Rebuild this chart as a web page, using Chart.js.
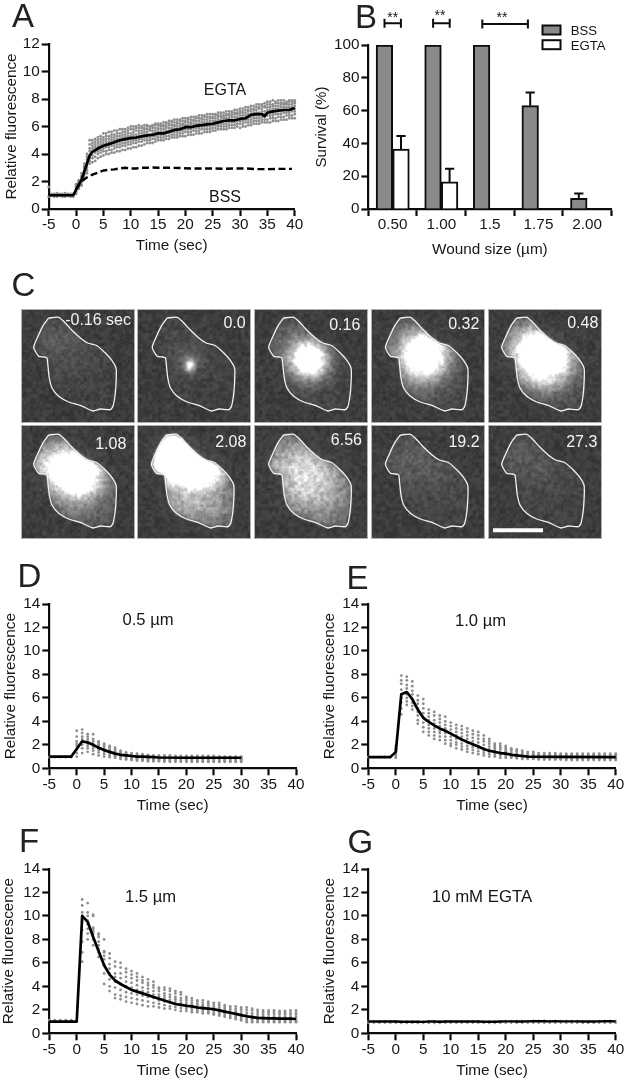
<!DOCTYPE html>
<html><head><meta charset="utf-8">
<script src="https://cdn.jsdelivr.net/npm/chart.js@4"></script>
<style>
html,body{margin:0;padding:0;background:#fff;width:625px;height:1082px;overflow:hidden}
canvas{position:absolute;display:block;filter:blur(.45px)}
.letter{position:absolute;font:33px/1 "Liberation Sans",Arial,sans-serif;color:#222;filter:blur(.4px)}
</style></head><body>
<script>
/* ---------- Panel A ---------- */
const restTimesA=[-5,-4.5,-4,-3.5,-3,-2.5,-2,-1.5,-1,-0.5];
const restA1=[1.6,1.1,1.1,1.15,1.1,1.1,1.15,1.1,1.1,1.1];
const restA2=[0.9,0.95,0.9,0.9,0.95,0.9,0.9,0.95,0.9,0.9];
const repA1=[1.8,2.1,2.6,3.3,4.0,5.0,5.0,5.1,5.2,5.3, 5.5,5.5,5.6,5.6,5.7,5.7,5.8,5.8,5.8,5.9, 6.0,6.0,6.0,6.1,6.0,6.1,6.1,6.0,6.1,6.2, 6.2,6.2,6.3,6.3,6.4,6.4,6.5,6.5,6.5,6.6, 6.6,6.6,6.7,6.7,6.7,6.8,6.8,6.8,6.9,6.9, 6.9,6.9,7.0,7.0,7.0,7.1,7.1,7.1,7.2,7.2, 7.3,7.3,7.4,7.4,7.5,7.5,7.6,7.6,7.6,7.7, 7.8,7.8,7.9,7.8,7.9,7.9,7.9,7.8,7.9,7.9, 7.9];
const repA2=[1.7,2.0,2.4,3.1,3.8,4.7,4.8,4.9,5.0,5.1, 5.2,5.3,5.3,5.4,5.4,5.5,5.5,5.6,5.6,5.7, 5.8,5.8,5.9,5.9,5.9,5.9,6.0,6.0,6.0,6.1, 6.1,6.1,6.1,6.2,6.2,6.3,6.3,6.3,6.4,6.4, 6.4,6.5,6.5,6.5,6.6,6.6,6.6,6.7,6.7,6.7, 6.7,6.8,6.8,6.8,6.8,6.9,6.9,7.0,7.0,7.0, 7.1,7.1,7.2,7.2,7.3,7.3,7.4,7.4,7.5,7.5, 7.6,7.6,7.6,7.7,7.7,7.7,7.7,7.7,7.8,7.8, 7.8];
const repA3=[1.6,1.9,2.3,3.0,3.6,4.4,4.6,4.7,4.8,4.9, 5.0,5.1,5.1,5.2,5.2,5.3,5.3,5.4,5.4,5.5, 5.5,5.6,5.7,5.7,5.7,5.8,5.8,5.8,5.9,5.9, 5.9,6.0,6.0,6.0,6.1,6.1,6.1,6.2,6.2,6.2, 6.3,6.3,6.3,6.4,6.4,6.4,6.5,6.5,6.5,6.6, 6.6,6.6,6.7,6.7,6.7,6.8,6.8,6.8,6.9,6.9, 7.0,7.0,7.0,7.1,7.1,7.2,7.2,7.3,7.3,7.4, 7.4,7.4,7.5,7.5,7.5,7.6,7.6,7.6,7.6,7.6, 7.7];
const repA4=[1.5,1.8,2.2,2.8,3.4,4.2,4.4,4.5,4.6,4.7, 4.8,4.9,4.9,5.0,5.0,5.1,5.1,5.2,5.2,5.3, 5.3,5.4,5.4,5.5,5.5,5.6,5.6,5.7,5.7,5.7, 5.8,5.8,5.8,5.9,5.9,5.9,6.0,6.0,6.0,6.1, 6.1,6.1,6.2,6.2,6.2,6.2,6.3,6.3,6.3,6.4, 6.4,6.4,6.5,6.5,6.6,6.6,6.6,6.7,6.7,6.7, 6.8,6.8,6.8,6.9,6.9,7.0,7.0,7.0,7.1,7.1, 7.2,7.2,7.3,7.3,7.3,7.4,7.4,7.4,7.4,7.4, 7.5];
const repA5=[1.4,1.7,2.1,2.6,3.2,3.9,4.2,4.3,4.4,4.5, 4.6,4.7,4.7,4.8,4.8,4.9,4.9,5.0,5.0,5.1, 5.1,5.2,5.2,5.3,5.3,5.4,5.4,5.4,5.5,5.5, 5.6,5.6,5.6,5.7,5.7,5.8,5.8,5.8,5.9,5.9, 6.0,6.0,6.0,6.0,6.1,6.1,6.1,6.1,6.2,6.2, 6.2,6.3,6.3,6.3,6.4,6.4,6.4,6.5,6.5,6.5, 6.6,6.6,6.6,6.7,6.7,6.8,6.8,6.8,6.9,6.9, 7.0,7.0,7.0,7.1,7.1,7.1,7.2,7.2,7.2,7.3, 7.3];
const repA6=[1.3,1.6,2.0,2.5,3.0,3.7,3.9,4.1,4.2,4.3, 4.4,4.5,4.5,4.6,4.6,4.7,4.7,4.8,4.8,4.9, 4.9,5.0,5.0,5.1,5.1,5.2,5.2,5.2,5.3,5.3, 5.4,5.4,5.4,5.5,5.5,5.6,5.6,5.6,5.7,5.7, 5.8,5.8,5.8,5.9,5.9,5.9,6.0,6.0,6.0,6.0, 6.1,6.1,6.1,6.2,6.2,6.2,6.3,6.3,6.3,6.4, 6.4,6.4,6.5,6.5,6.5,6.6,6.6,6.6,6.7,6.7, 6.8,6.8,6.8,6.9,6.9,6.9,7.0,7.0,7.0,7.1, 7.1];
const repA7=[1.2,1.5,1.8,2.3,2.8,3.5,3.7,3.8,4.0,4.1, 4.2,4.2,4.3,4.3,4.4,4.5,4.5,4.6,4.6,4.7, 4.7,4.8,4.8,4.9,4.9,5.0,5.0,5.0,5.1,5.1, 5.2,5.2,5.2,5.3,5.3,5.4,5.4,5.4,5.5,5.5, 5.6,5.6,5.6,5.7,5.7,5.7,5.8,5.8,5.8,5.8, 5.9,5.9,6.0,6.0,6.0,6.0,6.1,6.1,6.1,6.2, 6.2,6.2,6.3,6.3,6.3,6.4,6.4,6.4,6.5,6.5, 6.5,6.6,6.6,6.6,6.7,6.7,6.7,6.8,6.8,6.8, 6.9];
const repA8=[1.1,1.5,1.7,2.2,2.6,3.3,3.4,3.5,3.7,3.8, 3.9,4.0,4.0,4.1,4.1,4.2,4.2,4.3,4.3,4.4, 4.4,4.5,4.5,4.6,4.6,4.7,4.8,4.8,4.8,4.9, 5.0,5.0,5.0,5.1,5.1,5.2,5.2,5.2,5.3,5.3, 5.3,5.4,5.4,5.4,5.5,5.5,5.5,5.6,5.6,5.6, 5.7,5.7,5.8,5.8,5.8,5.8,5.9,5.9,5.9,6.0, 5.9,6.0,6.0,6.1,6.1,6.2,6.2,6.2,6.3,6.3, 6.3,6.3,6.4,6.4,6.4,6.5,6.5,6.5,6.6,6.6, 6.6];
const meanTimesA=[-5,-0.5,0,0.5,1,1.5,2,2.5,3,4,5,6,7,8,9,10,11,12,13,14,15,16,17,18,19,20,21,22,23,24,25,26,27,28,29,30,31,32,33,34,34.5,35,36,37,38,39,40];
const meanA=[1,1,1.4,1.8,2.1,2.7,3.3,3.9,4.15,4.4,4.6,4.72,4.85,5,5.08,5.15,5.2,5.28,5.35,5.4,5.5,5.5,5.62,5.75,5.8,5.95,5.95,6.05,6.1,6.15,6.2,6.3,6.4,6.45,6.45,6.55,6.6,6.85,6.9,6.9,6.75,7,7.1,7.15,7.2,7.2,7.35];
const bssTimes=[0,1,2,3,4,5,6,7,8,9,10,11,12,13,14,15,17,19,21,23,25,27,29,31,33,35,37,39.5];
const bssA=[1.4,2,2.3,2.5,2.65,2.8,2.85,2.88,2.95,3,2.95,2.95,3,3,3.02,3,3,2.98,2.95,2.95,2.95,2.92,2.95,2.95,2.9,2.9,2.92,2.92];

/* ---------- Panel B ---------- */
const woundSizes=["0.50","1.00","1.5","1.75","2.00"];
const survivalBSS=[100,100,100,63,6.5];
const survivalEGTA=[36.5,16.5,null,null,null];
const errorBSS=[null,null,null,8,3];
const errorEGTA=[8,8,null,null,null];

/* ---------- Panel C ---------- */
const frameLabels=["-0.16 sec","0.0","0.16","0.32","0.48","1.08","2.08","6.56","19.2","27.3"];
const outlineX=[27.7,37.7,42.7,51,59.3,66.7,76,84.3,90.3,95,95.3,94.3,92,89.3,79.3,72,59.3,47.7,37.7,31,28.3,27,26,23.3,17.7,12.7,17.7,22.7,27.7];
const outlineY=[9,8.3,12.3,21.3,29,34,36.7,44,50.7,59,67.3,84,97.3,100.7,100,102,96.3,93,87.3,79,69,57.3,49,48,47.3,38.3,25.7,15.7,9];
const frameHaze=[5,5,6,8,10,14,22,28,9,7];
const frameBlobs=[
 [[35,30,22,16,20],[52,50,24,18,8]],
 [[40,35,20,14,10],[50,56,3.5,4.5,170],[50,52,10,10,28]],
 [[53,50,11,11,300],[45,50,22,20,50],[35,30,18,14,20]],
 [[51,46,14,14,300],[42,42,26,24,65],[50,70,18,18,18]],
 [[55,47,19,17,300],[40,35,20,16,80],[55,70,18,14,45]],
 [[45,40,22,15,230],[58,52,13,13,170],[40,60,26,24,30],[60,80,20,14,25],[70,55,20,14,30]],
 [[32,30,15,13,280],[50,40,18,13,300],[65,48,14,10,130],[55,78,30,16,90],[35,20,10,10,150]],
 [[55,52,22,22,110],[30,35,20,18,55],[60,75,30,18,30]],
 [[35,30,24,16,22],[60,50,25,16,10]],
 [[35,30,22,16,20],[55,50,20,14,8]]
];
const scaleBarX=[5,55];
const scaleBarY=[105.3,105.3];

/* ---------- Panel D ---------- */
const restTimes=[-5,-4,-3,-2,-1];
const restD=[0.95,0.95,0.95,0.95,0.95];
const lineTimesD=[-5,-4,-3,-2,-1,0,1,2,3,4,5,6,7,8,9,10,11,12,13,14,15,20,25,30];
const lineD=[1,1,1,1,1,1.65,2.3,2.2,2,1.75,1.55,1.4,1.25,1.15,1.1,1.05,1,1,0.98,0.95,0.92,0.9,0.9,0.9];
const repD1=[3.2,3.3,2.9,2.9,2.3,2.1,1.9,1.75,1.5,1.35,1.3,1.25,1.2,1.15,1.1,1.1,1.1,1.1,1.05,1.05,1.05,1.05,1.05,1.05,1.05,1.05,1.0,1.0,1.0,1.0,1.0];
const repD2=[2.7,3.0,2.7,2.5,2.2,2.0,1.8,1.6,1.4,1.3,1.2,1.15,1.1,1.1,1.05,1.0,1.0,1.0,1.0,1.0,1.0,1.0,1.0,1.0,1.0,1.0,0.95,0.95,0.95,0.95,0.95];
const repD3=[2.3,2.7,2.5,2.3,2.05,1.85,1.65,1.45,1.3,1.2,1.1,1.05,1.0,1.0,0.95,0.95,0.95,0.95,0.9,0.9,0.9,0.9,0.9,0.9,0.9,0.9,0.9,0.9,0.9,0.9,0.9];
const repD4=[2.1,2.5,2.3,2.1,1.9,1.7,1.5,1.35,1.2,1.1,1.0,0.95,0.9,0.9,0.9,0.85,0.85,0.85,0.85,0.85,0.85,0.85,0.85,0.85,0.85,0.85,0.85,0.85,0.8,0.8,0.8];
const repD5=[1.9,2.3,2.1,1.9,1.7,1.55,1.4,1.25,1.1,1.0,0.95,0.9,0.85,0.85,0.8,0.8,0.8,0.8,0.8,0.8,0.75,0.75,0.75,0.75,0.75,0.75,0.75,0.75,0.75,0.75,0.75];
const repD6=[1.6,2.0,1.9,1.7,1.55,1.4,1.25,1.1,1.0,0.9,0.85,0.8,0.8,0.75,0.75,0.75,0.7,0.7,0.7,0.7,0.7,0.7,0.7,0.7,0.7,0.7,0.7,0.7,0.7,0.7,0.7];
const repD7=[1.3,1.7,1.7,1.5,1.35,1.2,1.1,1.0,0.9,0.8,0.75,0.75,0.7,0.7,0.65,0.65,0.65,0.65,0.65,0.65,0.65,0.65,0.6,0.6,0.6,0.6,0.6,0.6,0.6,0.6,0.6];
const repD8=[1.0,1.3,1.4,1.2,1.1,1.0,0.95,0.9,0.8,0.75,0.7,0.65,0.65,0.6,0.6,0.6,0.55,0.55,0.55,0.55,0.55,0.55,0.55,0.55,0.55,0.55,0.55,0.55,0.55,0.55,0.55];

/* ---------- Panel E ---------- */
const restE=[0.95,0.95,0.95,0.95,0.95];
const lineTimesE=[-5,-4,-3,-2,-1,0,1,2,3,4,5,6,7,8,9,10,11,12,13,14,15,16,17,18,19,20,21,22,23,24,30,40];
const lineE=[0.95,0.95,0.95,0.95,0.95,1.4,6.3,6.5,5.9,5,4.3,3.95,3.65,3.4,3.2,2.95,2.7,2.45,2.25,2.05,1.85,1.65,1.5,1.4,1.3,1.25,1.15,1.1,1.05,1,0.97,0.95];
const repE1=[1.9,7.9,7.8,7.4,6.2,5.9,5.0,4.8,4.5,4.4,3.9,3.7,3.6,3.4,3.2,3.1,2.8,2.5,2.1,2.1,1.9,1.7,1.6,1.5,1.4,1.4,1.3,1.3,1.3,1.3,1.25,1.25,1.25,1.25,1.25,1.25,1.25,1.25,1.25,1.25,1.25];
const repE2=[1.7,7.5,7.5,7.0,5.8,5.5,4.7,4.5,4.2,4.0,3.6,3.4,3.3,3.1,2.9,2.8,2.5,2.3,1.95,1.9,1.75,1.6,1.5,1.4,1.3,1.3,1.2,1.2,1.2,1.2,1.15,1.15,1.15,1.15,1.15,1.15,1.15,1.15,1.15,1.15,1.15];
const repE3=[1.6,7.2,7.1,6.6,5.5,5.1,4.4,4.1,3.9,3.7,3.3,3.1,3.0,2.8,2.6,2.5,2.3,2.1,1.8,1.75,1.6,1.5,1.4,1.3,1.25,1.2,1.15,1.15,1.1,1.1,1.1,1.1,1.1,1.1,1.1,1.1,1.1,1.1,1.1,1.1,1.1];
const repE4=[1.45,6.7,6.8,6.3,5.1,4.7,4.1,3.8,3.6,3.4,3.0,2.8,2.7,2.5,2.3,2.2,2.0,1.85,1.65,1.6,1.45,1.35,1.25,1.2,1.15,1.1,1.05,1.05,1.05,1.0,1.0,1.0,1.0,1.0,1.0,1.0,1.0,1.0,1.0,1.0,1.0];
const repE5=[1.3,6.0,6.3,5.9,4.8,4.3,3.7,3.4,3.2,3.0,2.7,2.5,2.4,2.2,2.0,1.9,1.7,1.6,1.45,1.4,1.3,1.2,1.15,1.1,1.05,1.0,1.0,0.95,0.95,0.95,0.95,0.95,0.95,0.95,0.95,0.95,0.95,0.95,0.95,0.95,0.95];
const repE6=[1.2,5.6,6.0,5.6,4.5,3.9,3.4,3.1,3.0,2.7,2.4,2.2,2.1,1.9,1.8,1.7,1.5,1.4,1.3,1.25,1.2,1.1,1.05,1.0,0.95,0.95,0.9,0.9,0.9,0.85,0.85,0.85,0.85,0.85,0.85,0.85,0.85,0.85,0.85,0.85,0.85];
const repE7=[1.05,5.1,5.7,5.3,4.1,3.5,3.1,2.8,2.7,2.4,2.1,2.0,1.85,1.65,1.55,1.45,1.3,1.2,1.15,1.1,1.05,1.0,0.95,0.9,0.9,0.85,0.85,0.85,0.8,0.8,0.8,0.8,0.8,0.8,0.8,0.8,0.8,0.8,0.8,0.8,0.8];
const repE8=[0.9,4.6,5.4,5.0,3.8,3.1,2.8,2.5,2.4,2.1,1.9,1.7,1.6,1.4,1.3,1.2,1.1,1.0,1.0,0.9,0.9,0.9,0.85,0.8,0.8,0.8,0.75,0.75,0.75,0.75,0.75,0.7,0.7,0.7,0.7,0.7,0.7,0.7,0.7,0.7,0.7];

/* ---------- Panel F ---------- */
const restF=[1.12,1.12,1.12,1.12,1.12];
const lineTimesF=[-5,0,1,2,3,4,5,6,7,8,9,10,11,12,13,14,15,16,17,18,19,20,21,22,23,24,25,26,27,28,29,30,31,32,33,34,35,36,37,38,39,40];
const lineF=[1,1,10,9.5,8.2,7,5.8,5,4.5,4.2,3.95,3.7,3.55,3.4,3.25,3.1,2.95,2.8,2.65,2.5,2.42,2.35,2.3,2.2,2.15,2.1,2.05,1.95,1.85,1.75,1.65,1.55,1.45,1.38,1.32,1.3,1.28,1.28,1.25,1.25,1.25,1.22];
const repF1=[11.4,11.1,10.1,8.5,8.0,6.8,6.1,6.0,5.5,5.3,5.1,4.8,4.6,4.4,3.9,3.9,3.8,3.6,3.5,3.1,3.0,2.8,2.8,2.7,2.6,2.6,2.4,2.3,2.3,2.2,2.2,2.1,2.0,1.95,1.95,1.95,1.9,1.9,1.95,1.95];
const repF2=[10.9,10.3,10.0,8.4,7.0,6.4,5.7,5.6,5.2,5.0,4.8,4.5,4.3,4.1,3.8,3.7,3.6,3.4,3.3,2.95,2.8,2.7,2.6,2.55,2.5,2.4,2.25,2.15,2.1,2.05,2.0,1.95,1.85,1.8,1.8,1.8,1.75,1.75,1.75,1.75];
const repF3=[10.3,10.0,9.0,8.2,6.9,5.9,5.1,5.1,4.8,4.7,4.5,4.3,4.1,3.9,3.6,3.4,3.3,3.1,3.0,2.8,2.6,2.5,2.4,2.4,2.3,2.2,2.1,2.0,1.9,1.85,1.75,1.7,1.65,1.6,1.6,1.6,1.6,1.6,1.6,1.6];
const repF4=[9.5,9.6,8.9,7.8,6.6,5.5,4.8,4.7,4.4,4.3,4.1,3.9,3.8,3.6,3.3,3.2,3.1,2.9,2.8,2.6,2.45,2.35,2.3,2.2,2.15,2.05,1.95,1.85,1.75,1.65,1.55,1.5,1.45,1.45,1.4,1.4,1.4,1.4,1.4,1.4];
const repF5=[8.8,9.3,8.7,7.5,6.3,5.1,4.4,4.2,4.0,3.9,3.7,3.6,3.5,3.3,3.1,3.0,2.85,2.7,2.6,2.4,2.3,2.2,2.15,2.05,2.0,1.9,1.8,1.7,1.6,1.5,1.4,1.3,1.3,1.3,1.25,1.25,1.25,1.25,1.25,1.25];
const repF6=[7.8,8.9,8.5,7.2,5.8,4.6,3.9,3.7,3.5,3.4,3.3,3.2,3.1,3.0,2.8,2.7,2.6,2.5,2.4,2.25,2.15,2.05,2.0,1.9,1.85,1.75,1.65,1.55,1.45,1.35,1.2,1.2,1.15,1.15,1.1,1.1,1.1,1.1,1.1,1.1];
const repF7=[6.9,8.5,8.0,6.9,5.1,4.0,3.3,3.2,3.1,3.0,2.9,2.8,2.7,2.6,2.5,2.4,2.3,2.25,2.15,2.1,2.0,1.9,1.85,1.8,1.7,1.6,1.5,1.4,1.3,1.2,1.05,1.05,1.05,1.05,1.0,1.0,1.0,1.0,1.0,1.0];
const repF8=[6.1,8.0,7.5,6.5,4.2,3.6,3.0,2.9,2.7,2.6,2.5,2.4,2.3,2.3,2.2,2.1,2.1,2.0,1.9,1.9,1.8,1.8,1.7,1.7,1.6,1.5,1.4,1.3,1.2,1.1,0.95,0.95,0.95,0.95,0.95,0.95,0.95,0.95,0.95,0.95];

/* ---------- Panel G ---------- */
const lineG=[1,1,1,1,1,1,0.98,0.98,0.98,0.98,0.97,1,1,0.98,1,1,1,1,1,1,1,0.98,0.98,0.98,1,1.02,1.02,1,1,1.02,1.03,1.03,1.03,1.02,1.03,1.02,1.02,1.02,1.02,1,1,1,1.02,1.03,1.03,1.02];
const repG1=[0.9,0.9,0.9,0.9,0.9,0.9,0.88,0.88,0.88,0.88,0.88,0.88,0.88,0.88,0.9,0.9,0.9,0.9,0.9,0.9,0.9,0.88,0.88,0.88,0.9,0.9,0.9,0.9,0.9,0.9,0.9,0.9,0.9,0.9,0.9,0.9,0.9,0.9,0.9,0.88,0.88,0.88,0.9,0.9,0.9,0.9];
const repG2=[1.05,1.05,1.05,1.05,1.05,1.05,1.03,1.03,1.03,1.03,1.03,1.05,1.05,1.05,1.05,1.05,1.05,1.05,1.05,1.05,1.05,1.03,1.03,1.03,1.05,1.08,1.08,1.08,1.08,1.08,1.1,1.1,1.1,1.08,1.08,1.08,1.08,1.08,1.08,1.05,1.05,1.05,1.08,1.08,1.1,1.08];

const INK="#0c0c0c", TXT="#161616", DOT="#8e8e8e", FONT='"Liberation Sans",Arial,sans-serif';
const seq=(a,b,s=1)=>{const o=[];for(let t=a;t<=b+1e-9;t+=s)o.push(t);return o;};
const pts=(xs,ys)=>xs.map((x,i)=>({x,y:ys[i]}));
const dots=(xs,ys,r=1.4)=>({data:pts(xs,ys),showLine:false,pointRadius:r,pointBackgroundColor:DOT,pointBorderWidth:0,clip:false});
const curve=(xs,ys,extra={})=>Object.assign({data:pts(xs,ys),showLine:true,pointRadius:0,borderColor:"#000",borderWidth:2.7,tension:0,clip:false,borderJoinStyle:"round"},extra);

/* text drawn on top of a chart, in page coordinates */
const notesPlugin={id:"notes",afterDraw(c,_,o){
  const g=c.ctx;g.save();g.textBaseline="alphabetic";
  (o.items||[]).forEach(n=>{g.font=n.size+"px "+FONT;g.textAlign=n.align||"center";g.fillStyle=n.color||TXT;g.fillText(n.text,n.x-o.ox,n.y-o.oy);});
  g.restore();
}};

function addCanvas(x,y,w,h){const c=document.createElement("canvas");c.width=w;c.height=h;c.style.left=x+"px";c.style.top=y+"px";c.style.width=w+"px";c.style.height=h+"px";document.body.appendChild(c);return c;}

/* builds the shared Prism-style axes and pins the plot box to page pixels */
function frameOpts(b,xScale,yScale,notes){
  const W=b.w,H=b.h,lh=15.3*1.2;
  const titleLeft=b.ty-lh/2-b.x, xh=b.tx-b.B+lh/2;
  const base={border:{display:true,color:INK,width:2.2},grid:{drawOnChartArea:false,drawTicks:true,tickLength:7,tickWidth:2.2,tickColor:INK}};
  const tickFont={family:FONT,size:15.3};
  return {responsive:false,animation:false,devicePixelRatio:1,
    layout:{padding:{left:titleLeft,top:b.T-b.y,right:b.x+W-b.R,bottom:b.y+H-b.B-xh}},
    plugins:{legend:{display:false},tooltip:{enabled:false},notes:{items:notes||[],ox:b.x,oy:b.y}},
    scales:{
      x:Object.assign({},base,xScale,{afterFit:s=>{s.height=xh;},
        ticks:Object.assign({font:tickFont,color:TXT,padding:0,maxRotation:0,minRotation:0,autoSkip:false},xScale.ticks||{}),
        title:{display:true,text:b.xt,font:tickFont,color:TXT,padding:0}}),
      y:Object.assign({},base,yScale,{afterFit:s=>{s.width=b.L-b.x-titleLeft;},
        ticks:Object.assign({font:tickFont,color:TXT,padding:2,autoSkip:false},yScale.ticks||{}),
        title:{display:true,text:b.yt,font:tickFont,color:TXT,padding:0}})
    }};
}
const timeAxis={type:"linear",min:-5,max:40,ticks:{stepSize:5}};
function timePanel(b,datasets,yMax,notes){
  const c=addCanvas(b.x,b.y,b.w,b.h);
  new Chart(c,{type:"scatter",data:{datasets},plugins:[notesPlugin],
    options:frameOpts(Object.assign({xt:"Time (sec)",yt:"Relative fluorescence"},b),timeAxis,{type:"linear",min:0,max:yMax,ticks:{stepSize:2}},notes)});
}

/* Panel A */
const tA=seq(0,40,0.5);
timePanel({x:0,y:0,w:312,h:260,L:48.7,R:294.7,T:44,B:209,ty:11.7,tx:246},
 [curve(meanTimesA,meanA),
  curve(bssTimes,bssA,{borderDash:[7,3.5],borderWidth:2.4}),
  ...[repA1,repA2,repA3,repA4,repA5,repA6,repA7,repA8].map(r=>dots(tA,r)),
  dots(restTimesA,restA1),dots(restTimesA,restA2)],12,
 [{text:"EGTA",x:225,y:95,size:16},{text:"BSS",x:225,y:201.7,size:16}]);

/* Panel B */
(function(){
  const b={x:312,y:0,w:313,h:262,L:368.4,R:611.4,T:45,B:209,ty:321.7,tx:250,xt:"Wound size (µm)",yt:"Survival (%)"};
  const c=addCanvas(b.x,b.y,b.w,b.h);
  const legendPlugin={id:"legendBoxes",afterDraw(ch){
    const g=ch.ctx;g.save();g.lineWidth=2;g.strokeStyle=INK;
    ch.data.datasets.forEach((d,i)=>{const top=25.5+i*14.7;g.fillStyle=d.backgroundColor;
      g.fillRect(542.5-b.x,top,18,9);g.strokeRect(542.5-b.x,top,18,9);});
    g.restore();
  }};
  const o=frameOpts(b,{type:"category",labels:woundSizes},{type:"linear",min:0,max:100,ticks:{stepSize:20}},[
    {text:"**",x:392.7,y:21.5,size:14},{text:"**",x:440,y:20,size:14},{text:"**",x:502,y:22,size:14},
    {text:"BSS",x:570.7,y:34.8,size:13.2,align:"left"},{text:"EGTA",x:570.7,y:49.7,size:13.2,align:"left"}]);
  o.scales.y.title.font={family:FONT,size:15};
  const errP={id:"errs",afterDatasetsDraw(ch){
    const g=ch.ctx,y=ch.scales.y,x=ch.scales.x;g.save();g.strokeStyle=INK;g.lineWidth=2;
    [errorBSS,errorEGTA].forEach((errs,d)=>{
      const meta=ch.getDatasetMeta(d),vals=ch.data.datasets[d].data;
      errs.forEach((e,i)=>{if(e==null)return;
        const px=meta.data[i].x,top=y.getPixelForValue(vals[i]+e),base=y.getPixelForValue(vals[i]);
        g.beginPath();g.moveTo(px,base);g.lineTo(px,top);g.moveTo(px-4.6,top);g.lineTo(px+4.6,top);g.stroke();});
    });
    [[0,-8.2,8.2,23.3],[1,-8.2,8.4,23.3],[2,-7.6,38,24]].forEach(([i,a2,b2,py])=>{
      const p=x.getPixelForValue(i);
      g.beginPath();g.moveTo(p+a2,py);g.lineTo(p+b2,py);
      g.moveTo(p+a2,py-4.5);g.lineTo(p+a2,py+4.5);g.moveTo(p+b2,py-4.5);g.lineTo(p+b2,py+4.5);g.stroke();
    });
    g.restore();
  }};
  new Chart(c,{type:"bar",data:{labels:woundSizes,datasets:[
    {label:"BSS",data:survivalBSS,backgroundColor:"#8a8a8a",borderColor:INK,borderWidth:2,barThickness:16.6},
    {label:"EGTA",data:survivalEGTA,backgroundColor:"#ffffff",borderColor:INK,borderWidth:2,barThickness:16.6}]},
    plugins:[errP,legendPlugin,notesPlugin],options:o});
})();

/* Panel C: one small chart per frame; the outline is a line dataset, the
   fluorescence picture is painted behind it from frameHaze / frameBlobs */
function hash(x,y,s){let h=(x*374761393+y*668265263+s*2147483647)|0;h=Math.imul(h^(h>>>13),1274126177);h=h^(h>>>16);return ((h>>>0)%1000)/500-1;}
function vnoise(x,y,s){const xi=Math.floor(x),yi=Math.floor(y),fx=x-xi,fy=y-yi,u=fx*fx*(3-2*fx),v=fy*fy*(3-2*fy);
  const a=hash(xi,yi,s),b=hash(xi+1,yi,s),c=hash(xi,yi+1,s),d=hash(xi+1,yi+1,s);
  return (a*(1-u)+b*u)*(1-v)+(c*(1-u)+d*u)*v;}
function inside(px,py,xs,ys){let r=false;for(let i=0,j=xs.length-1;i<xs.length;j=i++){if((ys[i]>py)!==(ys[j]>py)&&px<(xs[j]-xs[i])*(py-ys[i])/(ys[j]-ys[i])+xs[i])r=!r;}return r;}
function paintFrame(k,size,dx,dy){
  const cv=document.createElement("canvas");cv.width=cv.height=size;const g=cv.getContext("2d"),im=g.createImageData(size,size);
  const xs=outlineX.map(v=>v+dx),ys=outlineY.map(v=>v+dy);
  let mask=new Float32Array(size*size);
  for(let y=0;y<size;y++)for(let x=0;x<size;x++)mask[y*size+x]=inside(x+.5,y+.5,xs,ys)?1:0;
  for(let pass=0;pass<2;pass++){const m=new Float32Array(size*size);
    for(let y=0;y<size;y++)for(let x=0;x<size;x++){let s=0,n=0;for(let a=-1;a<=1;a++)for(let b=-1;b<=1;b++){const X=x+a,Y=y+b;if(X>=0&&Y>=0&&X<size&&Y<size){s+=mask[Y*size+X];n++;}}m[y*size+x]=s/n;}
    mask=m;}
  for(let y=0;y<size;y++)for(let x=0;x<size;x++){
    const n=0.7*vnoise(x/3.2,y/3.2,k+1)+0.45*vnoise(x/1.6,y/1.6,k+40),m=mask[y*size+x];
    let glow=0;frameBlobs[k].forEach(([cx,cy,sx,sy,p])=>{const a=(x-cx-dx)/sx,b=(y-cy-dy)/sy;glow+=p*Math.exp(-(a*a+b*b)/2);});
    const v=60+15*n+frameHaze[k]*m*(1+.3*n)+glow*(m*.92+.08)*(1+.15*n);
    const q=Math.max(0,Math.min(255,v)),i=(y*size+x)*4;
    im.data[i]=im.data[i+1]=im.data[i+2]=q;im.data[i+3]=255;
  }
  g.putImageData(im,0,0);return cv;
}
const frameLeft=[20.7,136.5,253.7,370.7,488,20.7,136.5,253.7,370.7,488];
const frameTop=[309.3,309.3,309.3,309.3,309.3,425,425,425,425,425];
const frameDX=[0,2.5,2,1.7,1,0,1.7,2,1.7,1];
const frameDY=[0,0,0,0,0,1,1,1,1,1];
const labelRight=[110,108.7,106.3,108.3,110.3,105.3,109.4,108,108.6,109.3];
const labelBase=[15.7,19,20.7,19.7,19,24.3,21.7,20,21.7,21.7];
const framePlugin={id:"frameImg",beforeDatasetsDraw(c,_,o){
  c.ctx.drawImage(paintFrame(o.k,c.width,o.dx,o.dy),0,0);
},afterDraw(c){const g=c.ctx;g.save();g.strokeStyle="#b0b0b0";g.lineWidth=1;g.strokeRect(.5,.5,c.width-1,c.height-1);g.restore();}};
frameLabels.forEach((t,k)=>{
  const size=114,c=addCanvas(Math.round(frameLeft[k]),Math.round(frameTop[k]),size,size);
  const ds=[{data:pts(outlineX.map(v=>v+frameDX[k]),outlineY.map(v=>v+frameDY[k])),showLine:true,pointRadius:0,borderColor:"#f2f2f2",borderWidth:1.3,tension:0.2}];
  if(k===9)ds.push({data:pts(scaleBarX,scaleBarY),showLine:true,pointRadius:0,borderColor:"#ffffff",borderWidth:4});
  new Chart(c,{type:"scatter",data:{datasets:ds},plugins:[framePlugin,notesPlugin],options:{responsive:false,animation:false,devicePixelRatio:1,
    layout:{padding:0},
    plugins:{legend:{display:false},tooltip:{enabled:false},frameImg:{k,dx:frameDX[k],dy:frameDY[k]},
      notes:{ox:0,oy:0,items:[{text:t,x:labelRight[k],y:labelBase[k],size:16,align:"right",color:"#f4f4f4"}]}},
    scales:{x:{type:"linear",display:false,min:0,max:size},y:{type:"linear",display:false,min:0,max:size,reverse:true}}}});
});

/* Panels D-G */
const t30=seq(0,30),t40=seq(0,40),t140=seq(1,40),tAll=seq(-5,40);
timePanel({x:0,y:556,w:312,h:262,L:49.3,R:296,T:604,B:768.3,ty:11,tx:805.7},
 [curve(lineTimesD,lineD),...[repD1,repD2,repD3,repD4,repD5,repD6,repD7,repD8].map(r=>dots(t30,r)),dots(restTimes,restD)],14,
 [{text:"0.5 µm",x:148,y:625,size:16.6}]);
timePanel({x:312,y:556,w:313,h:262,L:368.3,R:615.7,T:604,B:768.3,ty:330,tx:805.7},
 [curve(lineTimesE,lineE),...[repE1,repE2,repE3,repE4,repE5,repE6,repE7,repE8].map(r=>dots(t40,r)),dots(restTimes,restE)],14,
 [{text:"1.0 µm",x:480.5,y:625.7,size:16.6}]);
timePanel({x:0,y:821,w:312,h:261,L:49.3,R:296,T:869,B:1033.3,ty:8.3,tx:1070.7},
 [curve(lineTimesF,lineF),...[repF1,repF2,repF3,repF4,repF5,repF6,repF7,repF8].map(r=>dots(t140,r)),dots(restTimes,restF)],14,
 [{text:"1.5 µm",x:150.5,y:901.7,size:16.6}]);
timePanel({x:312,y:821,w:313,h:261,L:368.3,R:615.7,T:869,B:1033.3,ty:330,tx:1070.7},
 [curve(tAll,lineG,{borderWidth:2.4}),dots(tAll,repG1,1.2),dots(tAll,repG2,1)],14,
 [{text:"10 mM EGTA",x:482,y:902.3,size:16.8}]);

/* Panel letters */
const panelLetters=["A","B","C","D","E","F","G"];
const letterX=[12,355,11.5,17.5,346.5,19,347.5];
const letterBase=[27,28,296,587,589,852,853];
panelLetters.forEach((t,i)=>{const d=document.createElement("div");d.className="letter";d.textContent=t;d.style.left=letterX[i]+"px";d.style.top=(letterBase[i]-0.8465*33)+"px";document.body.appendChild(d);});
</script>
</body></html>
